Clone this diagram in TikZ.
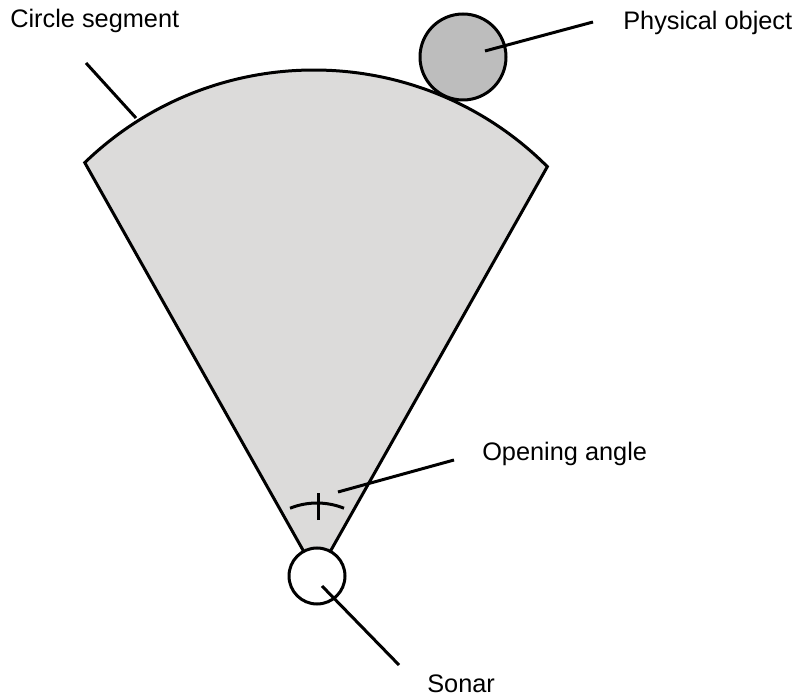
\documentclass[tikz,border=0pt]{standalone}
\usepackage{fontspec}
\setmainfont{Liberation Sans}
\usepackage{xcolor}
\usepackage{tikz}
\usetikzlibrary{calc}
\definecolor{ink}{HTML}{000000}
\definecolor{beambg}{HTML}{DCDBDA}
\definecolor{objbg}{HTML}{BDBDBD}
\tikzset{
  lw/.style={line width=2.25pt,draw=ink},
  beam/.style={lw,fill=beambg,line join=miter},
  sonarblk/.style={lw,circle,fill=white,minimum size=42pt,inner sep=0pt},
  objblk/.style={lw,circle,fill=objbg,minimum size=64.5pt,inner sep=0pt},
  lbl/.style={anchor=base west,inner sep=0pt,font=\fontsize{19}{23}\selectfont},
  lead/.style={lw},
}

\begin{document}
\begin{tikzpicture}[x=0.75pt,y=0.75pt]
\useasboundingbox (0,0) rectangle (796,-698);

% ---- beam (circle segment)
\coordinate (apex) at (317,-575);
\coordinate (ctr) at (314,-400);
\draw[beam] (apex) -- ($(ctr)+(45:330)$) arc[start angle=45,end angle=134,radius=330] -- cycle;

% ---- opening angle mark
\draw[lw] ($(apex)+(68:72)$) arc[start angle=68,end angle=112,radius=72];
\draw[lw] ($(apex)+(1,55)$) -- ($(apex)+(1,82)$);

% ---- sonar and object
\node[sonarblk] (sonar) at (317,-576) {};
\node[objblk] (obj) at (463,-57) {};

% ---- labels
\node[lbl] (lseg) at (10,-28) {Circle segment};
\node[lbl] (lobj) at (623,-30) {Physical object};
\node[lbl] (lang) at (482,-460) {Opening angle};
\node[lbl] (lson) at (427,-692) {Sonar};

% ---- leader lines
\coordinate (segA) at (86,-63);   \coordinate (segB) at (136,-118);
\coordinate (objA) at (485,-51);  \coordinate (objB) at (593,-22);
\coordinate (angA) at (338,-492); \coordinate (angB) at (454,-460);
\coordinate (sonA) at (322,-586); \coordinate (sonB) at (399,-665);
\draw[lead] (segA) -- (segB);
\draw[lead] (objA) -- (objB);
\draw[lead] (angA) -- (angB);
\draw[lead] (sonA) -- (sonB);

\end{tikzpicture}
\end{document}
